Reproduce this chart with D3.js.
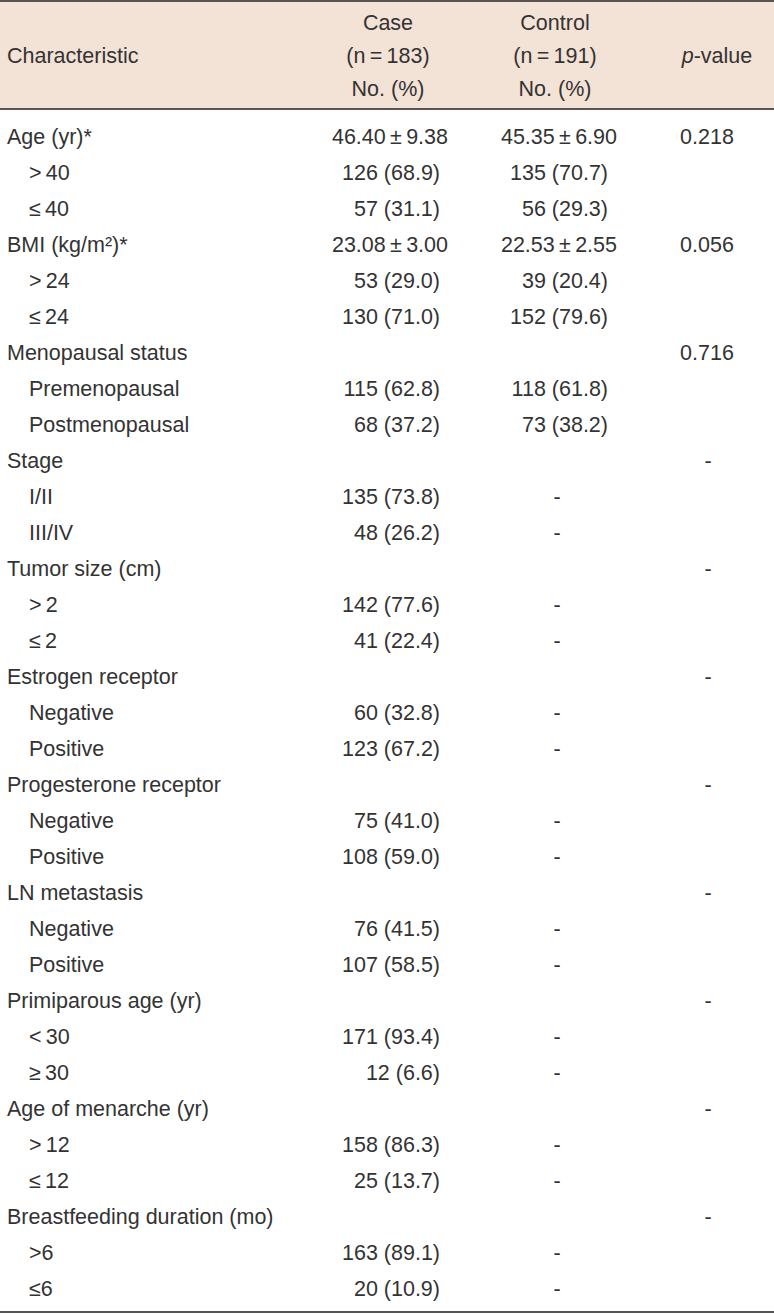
<!DOCTYPE html>
<html>
<head>
<meta charset="utf-8">
<script src="https://cdn.jsdelivr.net/npm/d3@7"></script>
<style>
  body { margin: 0; background: #fff; }
  text { font-family: "Liberation Sans", Arial, sans-serif; font-size: 21.5px; fill: #333; }
</style>
</head>
<body>
<svg id="tbl"></svg>
<script>
var width = 774,
    height = 1315;

// table content
var labels = ["Age (yr)*", ">\u200940", "\u2264\u200940", "BMI (kg/m\u00b2)*", ">\u200924", "\u2264\u200924",
  "Menopausal status", "Premenopausal", "Postmenopausal",
  "Stage", "I/II", "III/IV",
  "Tumor size (cm)", ">\u20092", "\u2264\u20092",
  "Estrogen receptor", "Negative", "Positive",
  "Progesterone receptor", "Negative", "Positive",
  "LN metastasis", "Negative", "Positive",
  "Primiparous age (yr)", "<\u200930", "\u2265\u200930",
  "Age of menarche (yr)", ">\u200912", "\u2264\u200912",
  "Breastfeeding duration (mo)", ">6", "\u22646"];
var subRow = [0,1,1,0,1,1,0,1,1,0,1,1,0,1,1,0,1,1,0,1,1,0,1,1,0,1,1,0,1,1,0,1,1];
var caseVals = ["46.40\u2009\u00b1\u20099.38", "126 (68.9)", "57 (31.1)", "23.08\u2009\u00b1\u20093.00", "53 (29.0)", "130 (71.0)",
  "", "115 (62.8)", "68 (37.2)",
  "", "135 (73.8)", "48 (26.2)",
  "", "142 (77.6)", "41 (22.4)",
  "", "60 (32.8)", "123 (67.2)",
  "", "75 (41.0)", "108 (59.0)",
  "", "76 (41.5)", "107 (58.5)",
  "", "171 (93.4)", "12 (6.6)",
  "", "158 (86.3)", "25 (13.7)",
  "", "163 (89.1)", "20 (10.9)"];
var controlVals = ["45.35\u2009\u00b1\u20096.90", "135 (70.7)", "56 (29.3)", "22.53\u2009\u00b1\u20092.55", "39 (20.4)", "152 (79.6)",
  "", "118 (61.8)", "73 (38.2)",
  "", "-", "-",
  "", "-", "-",
  "", "-", "-",
  "", "-", "-",
  "", "-", "-",
  "", "-", "-",
  "", "-", "-",
  "", "-", "-"];
var pVals = ["0.218", "", "", "0.056", "", "", "0.716", "", "",
  "-", "", "", "-", "", "", "-", "", "", "-", "", "", "-", "", "",
  "-", "", "", "-", "", "", "-", "", ""];

var rows = labels.map(function(l, i) {
  return {label: l, sub: subRow[i], c: caseVals[i], k: controlVals[i], p: pVals[i]};
});

var svg = d3.select("#tbl").attr("width", width).attr("height", height);

var y = d3.scalePoint()
  .domain(d3.range(rows.length))
  .range([136, 1288]);

// header band
svg.append("rect").attr("x", 0).attr("y", 2).attr("width", width).attr("height", 107)
  .attr("fill", "#f3e2d6");
svg.append("rect").attr("x", 0).attr("y", 0).attr("width", width).attr("height", 2).attr("fill", "#5a5350");
svg.append("rect").attr("x", 0).attr("y", 108).attr("width", width).attr("height", 2).attr("fill", "#5a5350");
svg.append("rect").attr("x", 0).attr("y", 1311).attr("width", width).attr("height", 2).attr("fill", "#5a5350");

var head = svg.append("g");
head.append("text").attr("x", 7).attr("y", 63).text("Characteristic");
[["Case", "(n\u2009=\u2009183)", 388], ["Control", "(n\u2009=\u2009191)", 555]].forEach(function(h) {
  head.append("text").attr("x", h[2]).attr("y", 30).attr("text-anchor", "middle").text(h[0]);
  head.append("text").attr("x", h[2]).attr("y", 63).attr("text-anchor", "middle").text(h[1]);
  head.append("text").attr("x", h[2]).attr("y", 96).attr("text-anchor", "middle").text("No. (%)");
});
var pv = head.append("text").attr("x", 717).attr("y", 63).attr("text-anchor", "middle");
pv.append("tspan").attr("font-style", "italic").text("p");
pv.append("tspan").text("-value");

var body = svg.append("g");
var row = body.selectAll(".row")
  .data(rows)
  .enter()
  .append("g")
  .attr("class", "row")
  .attr("transform", function(d, i) { return "translate(0," + (y(i) + 7.5) + ")"; });

row.append("text")
  .attr("x", function(d) { return d.sub ? 29 : 7; })
  .text(function(d) { return d.label; });

row.append("text")
  .attr("x", function(d) { return d.c.indexOf("\u00b1") >= 0 ? 448 : 440; })
  .attr("text-anchor", "end")
  .text(function(d) { return d.c; });

row.append("text")
  .attr("x", function(d) { return d.k === "-" ? 557 : (d.k.indexOf("\u00b1") >= 0 ? 617 : 608); })
  .attr("text-anchor", function(d) { return d.k === "-" ? "middle" : "end"; })
  .text(function(d) { return d.k; });

row.append("text")
  .attr("x", function(d) { return d.p === "-" ? 708 : 707; })
  .attr("text-anchor", "middle")
  .text(function(d) { return d.p; });
</script>
</body>
</html>
